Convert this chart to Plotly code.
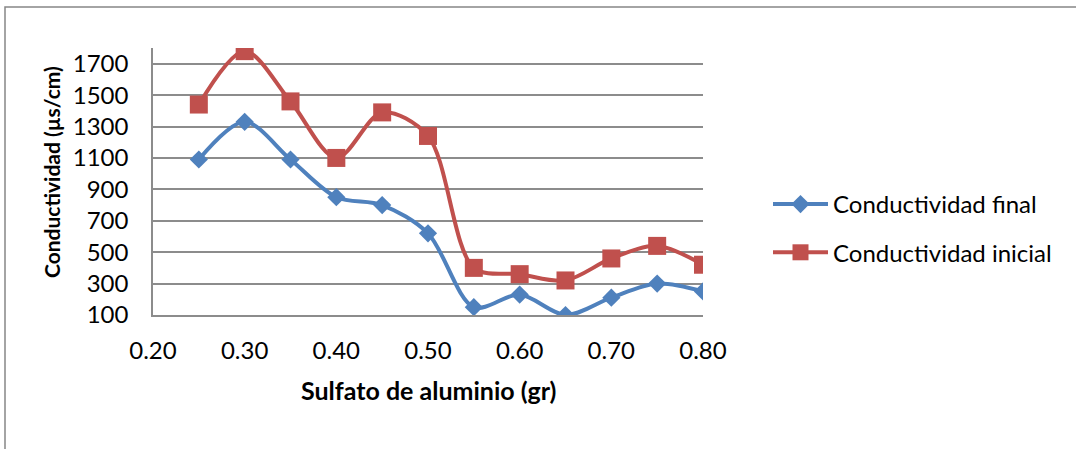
import plotly.graph_objects as go

# Dose of aluminium sulfate (gr)
dosis = [0.25, 0.30, 0.35, 0.40, 0.45, 0.50, 0.55, 0.60, 0.65, 0.70, 0.75, 0.80]
# Conductivity readings (µs/cm)
cond_final = [1090, 1330, 1090, 850, 800, 620, 150, 230, 100, 210, 300, 250]
cond_inicial = [1440, 1780, 1460, 1100, 1390, 1240, 400, 360, 320, 460, 540, 420]

x_ticks = [0.20, 0.30, 0.40, 0.50, 0.60, 0.70, 0.80]
y_ticks = [100, 300, 500, 700, 900, 1100, 1300, 1500, 1700]

FONT = "Lato"
BLUE = "#4F81BD"
RED = "#C0504D"
GRID = "#8C8C8C"

fig = go.Figure()
fig.add_trace(go.Scatter(
    x=dosis, y=cond_final, name="Conductividad final", legendgroup="a",
    mode="lines+markers",
    line=dict(color=BLUE, width=4, shape="spline", smoothing=0.9),
    marker=dict(symbol="diamond", size=14, color=BLUE),
))
fig.add_trace(go.Scatter(
    x=dosis, y=cond_inicial, name="Conductividad inicial", legendgroup="b",
    mode="lines+markers",
    line=dict(color=RED, width=4, shape="spline", smoothing=0.9),
    marker=dict(symbol="square", size=18, color=RED),
))

# plot area: x 153..703 px, y 48..315 px
L, R, T, B = 153, 1076 - 703, 48, 449 - 315
pw, ph = 1076 - L - R, 449 - T - B

def px(xp):
    return (xp - L) / pw

def py(yp):
    return (449 - B - yp) / ph

fig.update_layout(
    width=1076, height=449,
    margin=dict(l=L, r=R, t=T, b=B, pad=0),
    paper_bgcolor="white", plot_bgcolor="white",
    font=dict(family=FONT, size=24, color="black"),
    showlegend=True,
    legend=dict(
        x=px(768), y=py(182), xanchor="left", yanchor="top",
        itemwidth=55, tracegroupgap=14,
        font=dict(family=FONT, size=24, color="black"),
        bgcolor="rgba(0,0,0,0)",
    ),
    xaxis=dict(
        range=[0.2, 0.8], tickvals=x_ticks,
        ticktext=[f"{v:.2f}" for v in x_ticks],
        showgrid=False, zeroline=False,
        showline=True, linecolor=GRID, linewidth=1.5,
        ticks="", ticklabelstandoff=13,
        tickfont=dict(family=FONT, size=24),
    ),
    yaxis=dict(
        range=[100, 1800], tickvals=y_ticks,
        showgrid=True, gridcolor=GRID, gridwidth=1.5, zeroline=False,
        showline=True, linecolor=GRID, linewidth=1.5,
        ticks="", ticklabelstandoff=18,
        tickfont=dict(family=FONT, size=24),
    ),
    annotations=[
        dict(text="<b>Sulfato de aluminio (gr)</b>", xref="paper", yref="paper",
             x=px(428), y=py(390), xanchor="center", yanchor="middle",
             showarrow=False, font=dict(family=FONT, size=25)),
        dict(text="<b>Conductividad (µs/cm)</b>", xref="paper", yref="paper",
             x=px(51), y=py(172), xanchor="center", yanchor="middle",
             textangle=-90, showarrow=False, font=dict(family=FONT, size=21)),
    ],
    shapes=[
        dict(type="rect", xref="paper", yref="paper",
             x0=px(5), x1=px(1090), y0=py(7), y1=py(470),
             line=dict(color="#868686", width=1.5), fillcolor="rgba(0,0,0,0)",
             layer="below"),
    ],
)

fig.write_html("out.html")
